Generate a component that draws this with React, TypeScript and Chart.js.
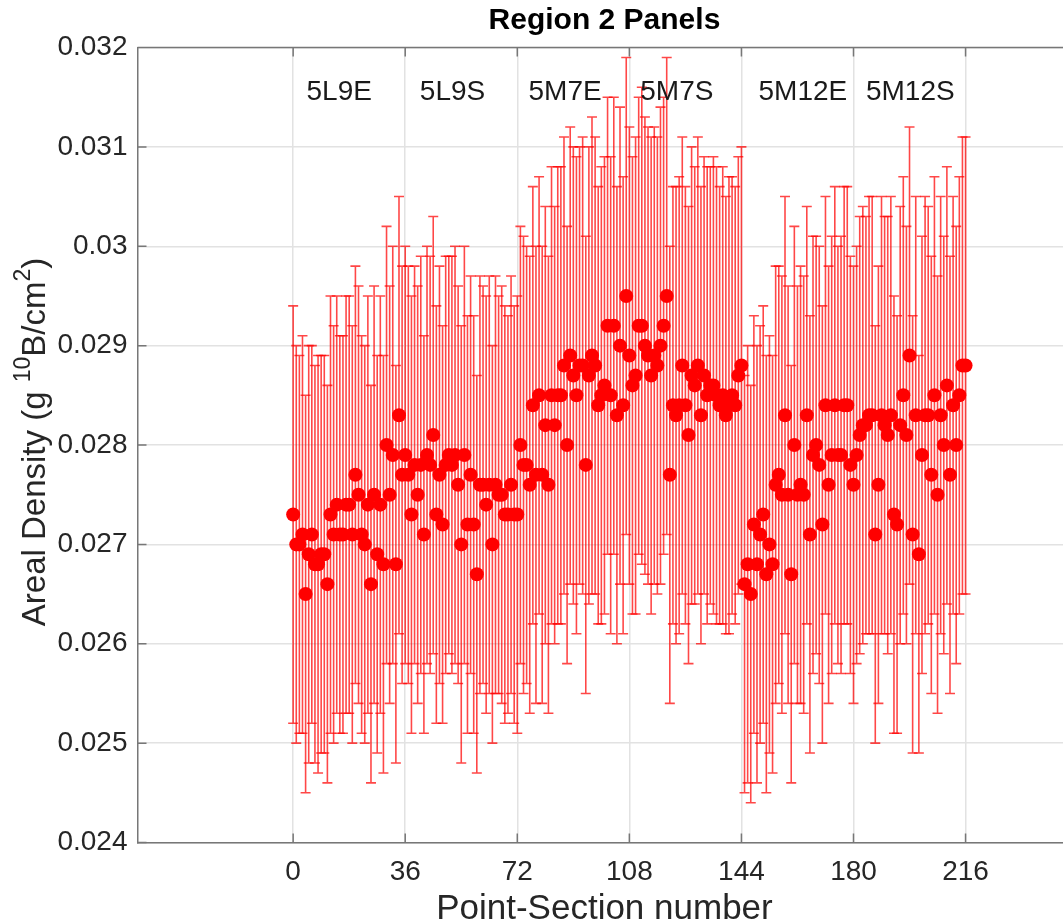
import React, { useEffect, useRef } from "react";
import { Chart, registerables } from "chart.js";

Chart.register(...registerables);

// ---- Data ----
const panelNames = ["5L9E", "5L9S", "5M7E", "5M7S", "5M12E", "5M12S"];
const panelLabelX = [4.3, 40.7, 75.6, 111.5, 149.5, 184];
const panelLabelY = 0.03155;

const density5L9E = [0.0273, 0.0270, 0.0270, 0.0271, 0.0265, 0.0269, 0.0271, 0.0268, 0.0268, 0.0269, 0.0269, 0.0266, 0.0273, 0.0271, 0.0274, 0.0271, 0.0271, 0.0274, 0.0274, 0.0271, 0.0277, 0.0275, 0.0271, 0.0270, 0.0274, 0.0266, 0.0275, 0.0269, 0.0274, 0.0268, 0.0280, 0.0275, 0.0279, 0.0268, 0.0283, 0.0277];
const density5L9S = [0.0279, 0.0277, 0.0273, 0.0278, 0.0275, 0.0278, 0.0271, 0.0279, 0.0278, 0.0281, 0.0273, 0.0277, 0.0272, 0.0278, 0.0279, 0.0278, 0.0279, 0.0276, 0.0270, 0.0279, 0.0272, 0.0277, 0.0272, 0.0267, 0.0276, 0.0276, 0.0274, 0.0276, 0.0270, 0.0276, 0.0275, 0.0275, 0.0273, 0.0273, 0.0276, 0.0273];
const density5M7E = [0.0273, 0.0280, 0.0278, 0.0278, 0.0276, 0.0284, 0.0277, 0.0285, 0.0277, 0.0282, 0.0276, 0.0285, 0.0282, 0.0285, 0.0285, 0.0288, 0.0280, 0.0289, 0.0287, 0.0285, 0.0288, 0.0288, 0.0278, 0.0287, 0.0289, 0.0288, 0.0284, 0.0285, 0.0286, 0.0292, 0.0285, 0.0292, 0.0283, 0.0290, 0.0284, 0.0295];
const density5M7S = [0.0289, 0.0286, 0.0287, 0.0292, 0.0292, 0.0290, 0.0289, 0.0287, 0.0289, 0.0288, 0.0290, 0.0292, 0.0295, 0.0277, 0.0284, 0.0283, 0.0284, 0.0288, 0.0284, 0.0281, 0.0287, 0.0286, 0.0288, 0.0283, 0.0287, 0.0285, 0.0286, 0.0286, 0.0285, 0.0284, 0.0285, 0.0283, 0.0284, 0.0285, 0.0284, 0.0287];
const density5M12E = [0.0288, 0.0266, 0.0268, 0.0265, 0.0272, 0.0268, 0.0271, 0.0273, 0.0267, 0.0270, 0.0268, 0.0276, 0.0277, 0.0275, 0.0283, 0.0275, 0.0267, 0.0280, 0.0275, 0.0276, 0.0275, 0.0283, 0.0271, 0.0279, 0.0280, 0.0278, 0.0272, 0.0284, 0.0276, 0.0279, 0.0284, 0.0279, 0.0279, 0.0284, 0.0284, 0.0278];
const density5M12S = [0.0276, 0.0279, 0.0281, 0.0282, 0.0282, 0.0283, 0.0283, 0.0271, 0.0276, 0.0283, 0.0282, 0.0281, 0.0283, 0.0273, 0.0272, 0.0282, 0.0285, 0.0281, 0.0289, 0.0271, 0.0283, 0.0269, 0.0279, 0.0283, 0.0283, 0.0277, 0.0285, 0.0275, 0.0283, 0.0280, 0.0286, 0.0277, 0.0284, 0.0280, 0.0285, 0.0288, 0.0288];

const error5L9E = [0.0021, 0.0020, 0.0019, 0.0020, 0.0020, 0.0021, 0.0019, 0.0020, 0.0021, 0.0020, 0.0020, 0.0020, 0.0022, 0.0021, 0.0021, 0.0020, 0.0020, 0.0021, 0.0021, 0.0021, 0.0021, 0.0021, 0.0020, 0.0020, 0.0021, 0.0020, 0.0021, 0.0020, 0.0021, 0.0021, 0.0022, 0.0021, 0.0021, 0.0020, 0.0022, 0.0021];
const error5L9S = [0.0021, 0.0021, 0.0022, 0.0020, 0.0021, 0.0021, 0.0020, 0.0021, 0.0021, 0.0022, 0.0021, 0.0021, 0.0020, 0.0021, 0.0020, 0.0021, 0.0021, 0.0020, 0.0022, 0.0021, 0.0021, 0.0020, 0.0021, 0.0020, 0.0021, 0.0020, 0.0021, 0.0021, 0.0020, 0.0021, 0.0020, 0.0021, 0.0021, 0.0020, 0.0021, 0.0021];
const error5M7E = [0.0022, 0.0022, 0.0023, 0.0022, 0.0023, 0.0022, 0.0023, 0.0022, 0.0023, 0.0022, 0.0023, 0.0023, 0.0022, 0.0023, 0.0023, 0.0023, 0.0022, 0.0023, 0.0023, 0.0024, 0.0022, 0.0023, 0.0023, 0.0023, 0.0024, 0.0023, 0.0022, 0.0023, 0.0023, 0.0023, 0.0024, 0.0023, 0.0023, 0.0024, 0.0023, 0.0024];
const error5M7S = [0.0023, 0.0023, 0.0024, 0.0023, 0.0024, 0.0023, 0.0023, 0.0024, 0.0023, 0.0023, 0.0024, 0.0023, 0.0024, 0.0023, 0.0022, 0.0023, 0.0023, 0.0023, 0.0022, 0.0023, 0.0023, 0.0022, 0.0023, 0.0023, 0.0022, 0.0023, 0.0022, 0.0023, 0.0023, 0.0022, 0.0023, 0.0022, 0.0023, 0.0022, 0.0022, 0.0022];
const error5M12E = [0.0022, 0.0021, 0.0022, 0.0021, 0.0021, 0.0022, 0.0021, 0.0021, 0.0022, 0.0021, 0.0021, 0.0022, 0.0021, 0.0022, 0.0022, 0.0021, 0.0021, 0.0022, 0.0021, 0.0022, 0.0022, 0.0021, 0.0022, 0.0022, 0.0021, 0.0022, 0.0022, 0.0021, 0.0022, 0.0022, 0.0022, 0.0021, 0.0022, 0.0022, 0.0022, 0.0021];
const error5M12S = [0.0022, 0.0021, 0.0022, 0.0022, 0.0021, 0.0022, 0.0022, 0.0021, 0.0022, 0.0022, 0.0021, 0.0022, 0.0022, 0.0022, 0.0021, 0.0022, 0.0022, 0.0021, 0.0023, 0.0022, 0.0022, 0.0020, 0.0022, 0.0022, 0.0021, 0.0022, 0.0022, 0.0022, 0.0022, 0.0021, 0.0022, 0.0022, 0.0021, 0.0022, 0.0022, 0.0023, 0.0023];

const xTicks = [0, 36, 72, 108, 144, 180, 216];
const yTicks = [0.024, 0.025, 0.026, 0.027, 0.028, 0.029, 0.03, 0.031, 0.032];

// y-axis label pieces: [text, isSuperscript]
const yLabelParts: [string, boolean][] = [
  ["Areal Density (g ", false],
  ["10", true],
  ["B/cm", false],
  ["2", true],
  [")", false],
];

const densities = [...density5L9E, ...density5L9S, ...density5M7E, ...density5M7S, ...density5M12E, ...density5M12S];
const errors = [...error5L9E, ...error5L9S, ...error5M7E, ...error5M7S, ...error5M12E, ...error5M12S];
const points = densities.map((v, i) => ({ x: i, y: v }));

// ---- Styles ----
const FONT = "'Liberation Sans', Arial, Helvetica, sans-serif";
const TEXT = "#262626";
const AXIS = "#777777";
const GRID = "#e2e2e2";
const RED = "rgb(255,0,0)";
const BAR = "rgba(255,0,0,0.72)";
const TICK_LEN = 9;
const CAP_HALF = 5;

const errorBarPlugin = {
  id: "errorBars",
  beforeDatasetsDraw(chart: any) {
    const { ctx, chartArea: a } = chart;
    const xs = chart.scales.x;
    const ys = chart.scales.y;
    ctx.save();
    ctx.beginPath();
    ctx.rect(a.left, a.top, a.right - a.left, a.bottom - a.top);
    ctx.clip();
    ctx.strokeStyle = BAR;
    ctx.lineWidth = 1.6;
    points.forEach((p, i) => {
      const px = xs.getPixelForValue(p.x);
      const top = ys.getPixelForValue(p.y + errors[i]);
      const bot = ys.getPixelForValue(p.y - errors[i]);
      ctx.beginPath();
      ctx.moveTo(px, top);
      ctx.lineTo(px, bot);
      ctx.moveTo(px - CAP_HALF, top);
      ctx.lineTo(px + CAP_HALF, top);
      ctx.moveTo(px - CAP_HALF, bot);
      ctx.lineTo(px + CAP_HALF, bot);
      ctx.stroke();
    });
    ctx.restore();
  },
};

const panelLabelPlugin = {
  id: "panelLabels",
  afterDatasetsDraw(chart: any) {
    const { ctx } = chart;
    const xs = chart.scales.x;
    const ys = chart.scales.y;
    ctx.save();
    ctx.font = `28px ${FONT}`;
    ctx.fillStyle = "#1a1a1a";
    ctx.textAlign = "left";
    ctx.textBaseline = "middle";
    panelNames.forEach((name, i) => {
      ctx.fillText(name, xs.getPixelForValue(panelLabelX[i]), ys.getPixelForValue(panelLabelY));
    });
    ctx.restore();
  },
};

const yTitlePlugin = {
  id: "yTitle",
  afterDraw(chart: any) {
    const { ctx, chartArea: a } = chart;
    const mainFont = `33px ${FONT}`;
    const supFont = `23px ${FONT}`;
    ctx.save();
    const widths = yLabelParts.map(([t, sup]) => {
      ctx.font = sup ? supFont : mainFont;
      return ctx.measureText(t).width;
    });
    const total = widths.reduce((s, w) => s + w, 0);
    const cy = (a.top + a.bottom) / 2 - 3;
    ctx.translate(35.5, cy);
    ctx.rotate(-Math.PI / 2);
    ctx.fillStyle = TEXT;
    ctx.textAlign = "left";
    ctx.textBaseline = "middle";
    let pos = -total / 2;
    yLabelParts.forEach(([t, sup], i) => {
      ctx.font = sup ? supFont : mainFont;
      ctx.fillText(t, pos, sup ? -12 : 0);
      pos += widths[i];
    });
    ctx.restore();
  },
};

const framePlugin = {
  id: "frame",
  afterDraw(chart: any) {
    const { ctx, chartArea: a } = chart;
    const xs = chart.scales.x;
    const ys = chart.scales.y;
    ctx.save();
    ctx.strokeStyle = AXIS;
    ctx.lineWidth = 1.5;
    ctx.beginPath();
    ctx.moveTo(a.left, a.top);
    ctx.lineTo(a.right, a.top);
    xTicks.forEach((v) => {
      const px = xs.getPixelForValue(v);
      ctx.moveTo(px, a.bottom);
      ctx.lineTo(px, a.bottom - TICK_LEN);
      ctx.moveTo(px, a.top);
      ctx.lineTo(px, a.top + TICK_LEN);
    });
    yTicks.forEach((v) => {
      const py = ys.getPixelForValue(v);
      ctx.moveTo(a.left, py);
      ctx.lineTo(a.left + TICK_LEN, py);
    });
    ctx.stroke();
    ctx.restore();
  },
};

export default function App() {
  const ref = useRef<HTMLCanvasElement>(null);

  useEffect(() => {
    if (!ref.current) return;
    const chart = new Chart(ref.current, {
      type: "scatter",
      data: {
        datasets: [
          {
            data: points,
            pointRadius: 7,
            pointHoverRadius: 7,
            pointBackgroundColor: RED,
            pointBorderWidth: 0,
            showLine: false,
          },
        ],
      },
      options: {
        responsive: false,
        animation: false,
        devicePixelRatio: 1,
        events: [],
        layout: { padding: { left: 0, top: 0, right: 28.6, bottom: 0 } },
        plugins: {
          legend: { display: false },
          tooltip: { enabled: false },
          title: {
            display: true,
            text: "Region 2 Panels",
            fullSize: false,
            color: "#000",
            font: { family: FONT, size: 30, weight: "bold", lineHeight: 1.2 },
            padding: { top: 3, bottom: 8.5 },
          },
        },
        scales: {
          x: {
            type: "linear",
            min: -50,
            max: 250,
            afterBuildTicks: (scale: any) => {
              scale.ticks = xTicks.map((v) => ({ value: v }));
            },
            afterFit: (scale: any) => {
              scale.height = 81.5;
            },
            ticks: {
              color: TEXT,
              font: { family: FONT, size: 28 },
              padding: 13,
              maxRotation: 0,
              autoSkip: false,
              callback: (v: any) => String(v),
            },
            grid: { color: GRID, lineWidth: 1.5, drawTicks: false },
            border: { display: true, color: AXIS, width: 1.5 },
            title: {
              display: true,
              text: "Point-Section number",
              color: TEXT,
              font: { family: FONT, size: 35, lineHeight: 0.85 },
              padding: { top: 0, bottom: 0 },
            },
          },
          y: {
            type: "linear",
            min: 0.024,
            max: 0.032,
            afterBuildTicks: (scale: any) => {
              scale.ticks = yTicks.map((v) => ({ value: v }));
            },
            afterFit: (scale: any) => {
              scale.width = 137.5;
            },
            ticks: {
              color: TEXT,
              font: { family: FONT, size: 28 },
              padding: 10,
              autoSkip: false,
              callback: (v: any) => Number(v).toFixed(3).replace(/0+$/, ""),
            },
            grid: { color: GRID, lineWidth: 1.5, drawTicks: false },
            border: { display: true, color: AXIS, width: 1.5 },
            title: { display: false },
          },
        },
      } as any,
      plugins: [errorBarPlugin, panelLabelPlugin, yTitlePlugin, framePlugin],
    });
    return () => chart.destroy();
  }, []);

  return (
    <div
      style={{
        position: "fixed",
        left: 0,
        top: 0,
        width: 1063,
        height: 924,
        overflow: "hidden",
        background: "#fff",
      }}
    >
      <canvas ref={ref} width={1100} height={924} style={{ display: "block" }} />
    </div>
  );
}
